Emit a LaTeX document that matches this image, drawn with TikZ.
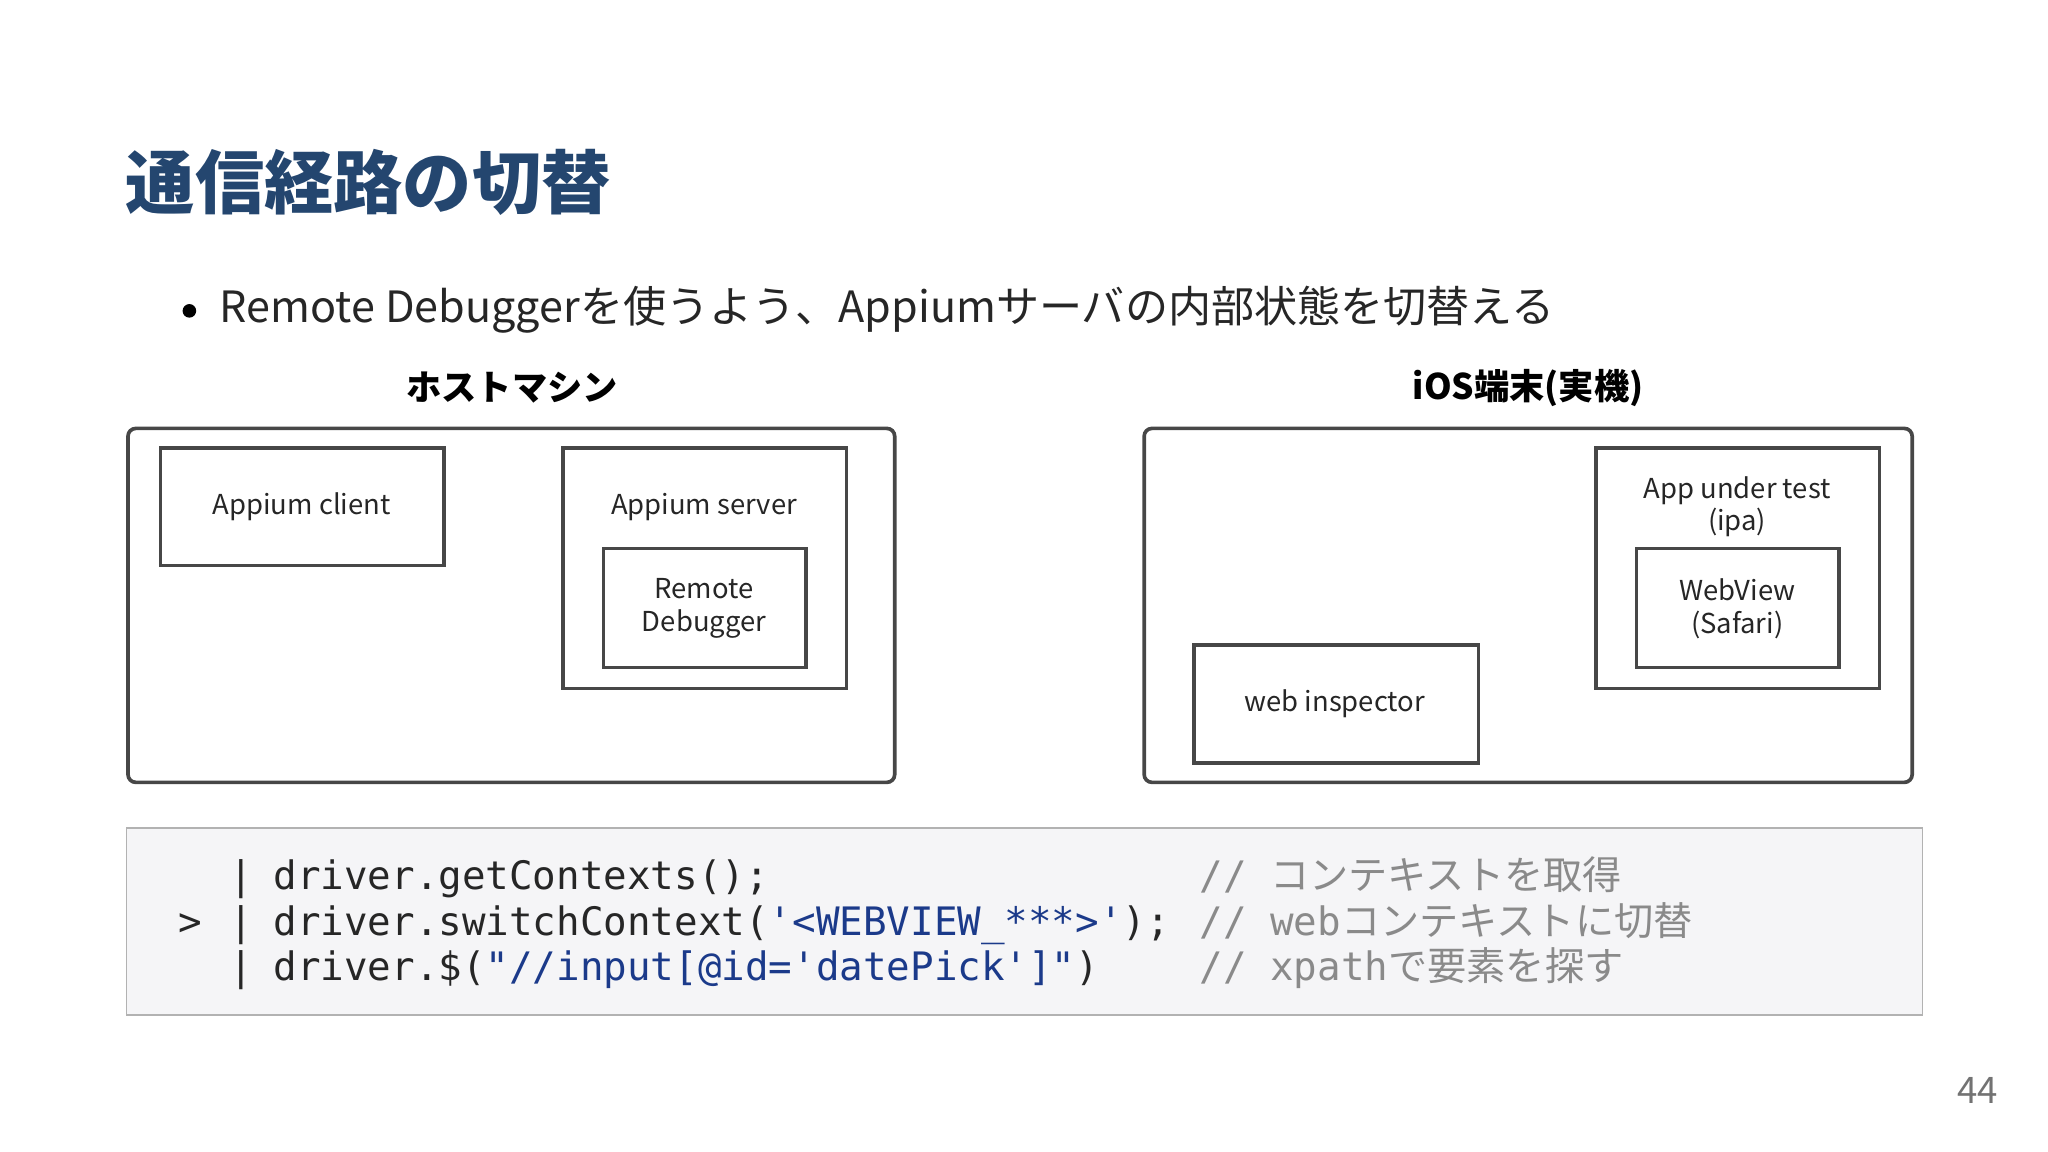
\documentclass[tikz,border=0pt]{standalone}
\usepackage{fontspec}
\setmainfont{Noto Sans CJK JP}
\newfontfamily\cjk{Noto Sans CJK JP}
\setmonofont{DejaVu Sans Mono}
\definecolor{titleblue}{HTML}{24466F}
\definecolor{strblue}{HTML}{1B3A8A}
\definecolor{cmtgray}{HTML}{8A8A8A}
\definecolor{codebg}{HTML}{F5F5F7}
\tikzset{
  box/.style={draw=black!72, line width=1.4pt},
  lbl/.style={font=\fontsize{10.5}{12.5}\selectfont, align=center, text=black!85},
  code/.style={anchor=base west, inner sep=0, font=\ttfamily\fontsize{15}{18}\selectfont, text=black!85},
}
\begin{document}
\begin{tikzpicture}[x=0.5pt,y=-0.5pt]
\useasboundingbox (0,0) rectangle (1568,882);
\node[anchor=west, inner sep=0, text=titleblue, font=\bfseries\fontsize{26.5}{30}\selectfont] (title) at (96,140) {通信経路の切替};
\fill (145,238) circle[radius=2.6pt];
\node[anchor=west, inner sep=0, font=\fontsize{16.5}{20}\selectfont, text=black!85] (bullet) at (168,237) {Remote Debuggerを使うよう、Appiumサーバの内部状態を切替える};
\node[font=\bfseries\fontsize{13.5}{16}\selectfont] (host) at (392,297) {ホストマシン};
\node[font=\bfseries\fontsize{13.5}{16}\selectfont] (ios) at (1170,297) {iOS端末(実機)};
\draw[box, rounded corners=3pt] (98,328) rectangle (685,599);
\draw[box, rounded corners=3pt] (876,328) rectangle (1464,599);
\draw[box] (123,343) rectangle (340,433);
\node[lbl] (client) at (231,388) {Appium client};
\draw[box] (431,343) rectangle (648,527);
\node[lbl] (server) at (539,388) {Appium server};
\draw[box] (462,420) rectangle (617,511);
\node[lbl] (rd) at (539,466) {Remote\\Debugger};
\draw[box] (1222,343) rectangle (1439,527);
\node[lbl] (aut) at (1330,388) {App under test\\(ipa)};
\draw[box] (1253,420) rectangle (1408,511);
\node[lbl] (wv) at (1330,466) {WebView\\(Safari)};
\draw[box] (914,494) rectangle (1132,584);
\node[lbl] (wi) at (1022,539) {web inspector};
\draw[draw=black!30, fill=codebg, line width=0.6pt] (97,634) rectangle (1472,777);
\node[code] (l1) at (175,681) {|};
\node[code] (c1) at (209,681) {driver.getContexts();};
\node[code, text=cmtgray] (m1) at (918,681) {// {\cjk コンテキストを取得}};
\node[code] (p2) at (136,716) {>};
\node[code] (l2) at (175,716) {|};
\node[code] (c2) at (209,716) {driver.switchContext(\textcolor{strblue}{'<WEBVIEW\_***>'});};
\node[code, text=cmtgray] (m2) at (918,716) {// web{\cjk コンテキストに切替}};
\node[code] (l3) at (175,751) {|};
\node[code] (c3) at (209,751) {driver.\$(\textcolor{strblue}{"//input[@id='datePick']"})};
\node[code, text=cmtgray] (m3) at (918,751) {// xpath{\cjk で要素を探す}};
\node[anchor=east, inner sep=0, text=black!55, font=\fontsize{14}{16}\selectfont] (pg) at (1530,835) {44};
\end{tikzpicture}
\end{document}
